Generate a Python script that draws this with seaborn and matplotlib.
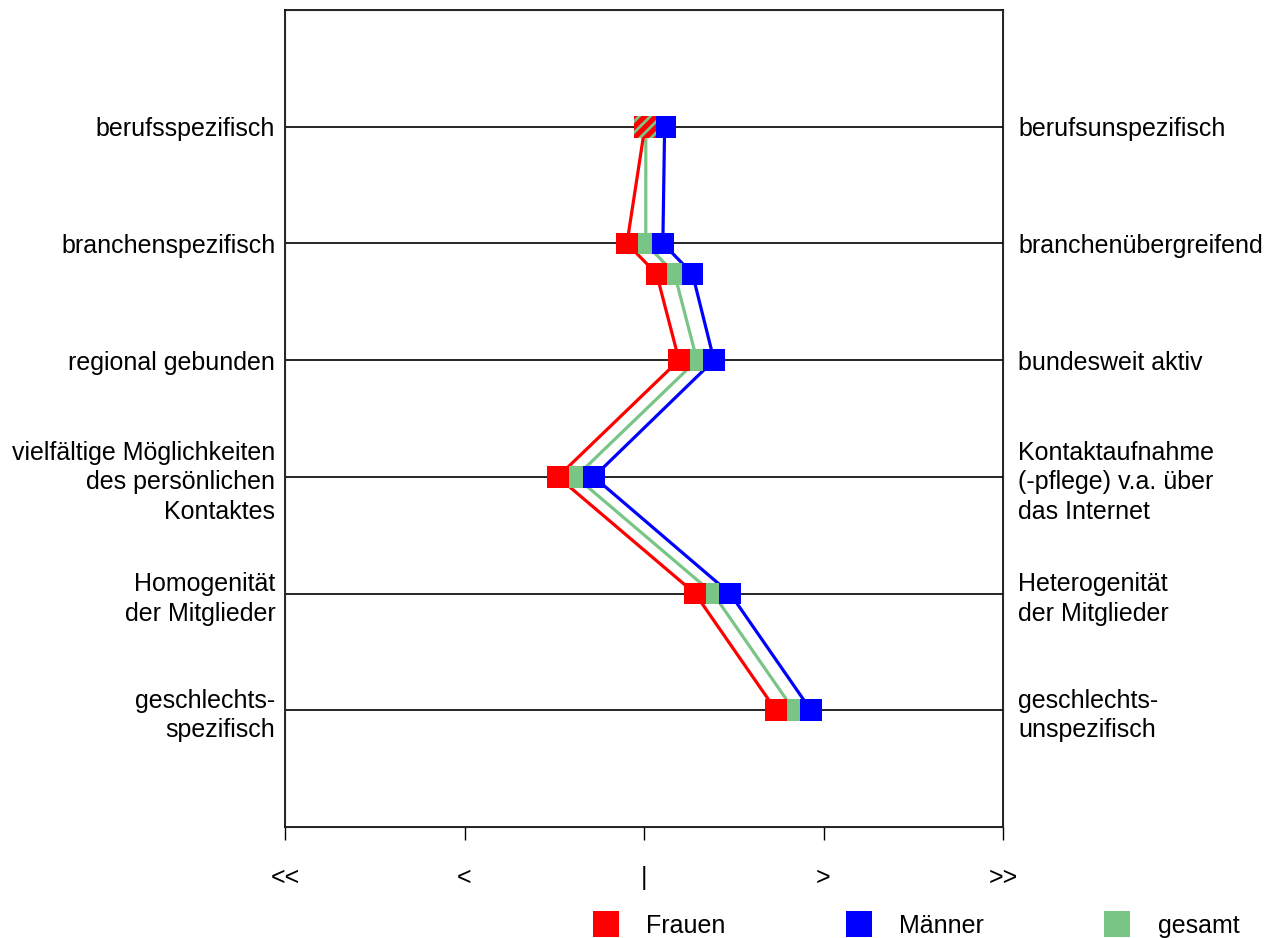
import pandas as pd
import matplotlib.pyplot as plt
import seaborn as sns
from matplotlib.lines import Line2D

# Werte (Skala -2 .. 2, 0 = Mitte)
left_labels = ['berufsspezifisch', 'branchenspezifisch', 'regional gebunden',
               'vielfältige Möglichkeiten\ndes persönlichen\nKontaktes',
               'Homogenität\nder Mitglieder', 'geschlechts-\nspezifisch']
right_labels = ['berufsunspezifisch', 'branchenübergreifend', 'bundesweit aktiv',
                'Kontaktaufnahme\n(-pflege) v.a. über\ndas Internet',
                'Heterogenität\nder Mitglieder', 'geschlechts-\nunspezifisch']
label_rows = [1, 2, 3, 4, 5, 6]
# Zeilen der Datenpunkte (eine zusätzliche Zeile ohne Beschriftung bei 2.26)
point_rows = [1, 2, 2.26, 3, 4, 5, 6]
frauen = [0.005, -0.095, 0.07, 0.195, -0.48, 0.285, 0.735]
maenner = [0.115, 0.105, 0.27, 0.39, -0.28, 0.48, 0.93]
gesamt = [0.01, 0.01, 0.17, 0.295, -0.38, 0.385, 0.835]
x_ticks = [-2, -1, 0, 1, 2]
x_ticklabels = ['<<', '<', '|', '>', '>>']

colors = {'Frauen': '#FF0000', 'Männer': '#0000FF', 'gesamt': '#78C586'}

# gesamt zuerst, damit rote und blaue Marker darüber liegen
df = pd.concat([
    pd.DataFrame({'wert': gesamt, 'zeile': point_rows, 'gruppe': 'gesamt'}),
    pd.DataFrame({'wert': frauen, 'zeile': point_rows, 'gruppe': 'Frauen'}),
    pd.DataFrame({'wert': maenner, 'zeile': point_rows, 'gruppe': 'Männer'}),
], ignore_index=True)

sns.set_style('white')
plt.rcParams['font.family'] = ['Liberation Sans', 'DejaVu Sans']
plt.rcParams['text.color'] = 'black'
plt.rcParams['xtick.color'] = 'black'
plt.rcParams['ytick.color'] = 'black'
plt.rcParams['hatch.linewidth'] = 2.0
plt.rcParams['hatch.color'] = colors['gesamt']

FS = 18

fig = plt.figure(figsize=(12.74, 9.38), dpi=100)
ax = fig.add_axes([285 / 1274, 1 - 827 / 938, 718 / 1274, 817 / 938])

sns.lineplot(data=df, x='wert', y='zeile', hue='gruppe', palette=colors,
             sort=False, estimator=None, linewidth=2.3, legend=False, ax=ax)
sns.scatterplot(data=df, x='wert', y='zeile', hue='gruppe', palette=colors,
                marker='s', s=245, linewidth=0, legend=False, ax=ax, zorder=3)

# überlagerter Marker (Frauen/gesamt) in der ersten Zeile schraffiert
ax.scatter([frauen[0]], [point_rows[0]], marker='s', s=245, facecolor=colors['Frauen'],
           edgecolor=colors['gesamt'], hatch='///', linewidths=0, zorder=4)

ax.set_xlim(-2, 2)
ax.set_ylim(7, 0)
ax.set_xticks(x_ticks)
ax.set_xticklabels(x_ticklabels, fontsize=FS)
ax.set_yticks(label_rows)
ax.set_yticklabels(left_labels, fontsize=FS, linespacing=1.3)
ax.tick_params(axis='x', direction='out', length=9, width=1, color='black', pad=19, bottom=True)
ax.tick_params(axis='y', length=0, pad=7)
ax.set_xlabel('')
ax.set_ylabel('')
ax.grid(axis='y', color='black', linewidth=1.2)
ax.grid(axis='x', visible=False)
for sp in ax.spines.values():
    sp.set_color('black')
    sp.set_linewidth(1.2)

ax2 = ax.twinx()
ax2.set_ylim(7, 0)
ax2.set_yticks(label_rows)
ax2.set_yticklabels(right_labels, fontsize=FS, linespacing=1.3)
ax2.tick_params(axis='y', length=0, pad=11)
ax2.grid(False)

handles = [Line2D([], [], linestyle='none', marker='s', markersize=19,
                  markerfacecolor=colors[g], markeredgewidth=0) for g in ['Frauen', 'Männer', 'gesamt']]
fig.legend(handles, ['Frauen', 'Männer', 'gesamt'], loc='center left',
           bbox_to_anchor=(580 / 1274, 1 - 926 / 938), ncol=3, frameon=False,
           fontsize=FS, handlelength=1.05, handletextpad=1.1, columnspacing=4.8, borderpad=0)

fig.savefig('out.png', dpi=100)
